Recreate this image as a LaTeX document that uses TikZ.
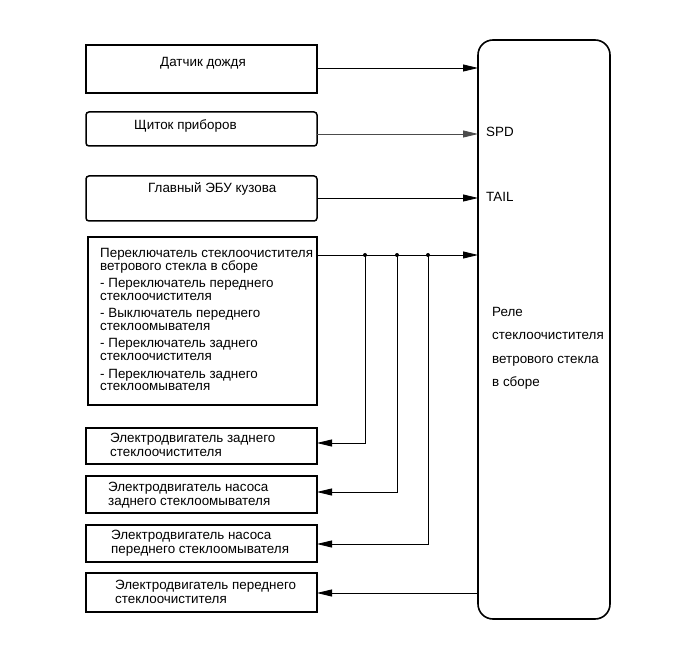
\documentclass[tikz,border=0pt]{standalone}
\usepackage{fontspec}
\setmainfont{Liberation Sans}
\usetikzlibrary{arrows.meta}
\begin{document}
\begin{tikzpicture}[x=1pt,y=-1pt,
  box/.style={draw,line width=1.5pt,inner sep=0pt,outer sep=0pt,anchor=north west},
  rbox/.style={box,rounded corners=3pt},
  txt/.style={font=\fontsize{13.4}{14}\selectfont,inner sep=0pt,anchor=base west},
  conn/.style={line width=0.8pt,-{Triangle[length=15pt,width=7pt]}},
  jdot/.style={circle,fill,inner sep=0pt,minimum size=4pt}]
\useasboundingbox (0,0) rectangle (691,660);

% relay
\node[box,line width=1.6pt,rounded corners=15pt,minimum width=132pt,minimum height=579pt] (relay) at (478,40) {};

% input boxes
\node[box,line width=2pt,minimum width=231pt,minimum height=48pt] (rain) at (86,45) {};
\node[txt] (rainT) at (160,67) {Датчик дождя};
\node[rbox,minimum width=231pt,minimum height=34pt] (panel) at (86,112) {};
\node[txt] (panelT) at (134,130) {Щиток приборов};
\node[rbox,minimum width=231pt,minimum height=45pt] (ecu) at (86,176) {};
\node[txt] (ecuT) at (148,193) {Главный ЭБУ кузова};

% switch box
\node[box,minimum width=229pt,minimum height=168pt] (sw) at (88,237) {};
\node[txt] (s1) at (100,258) {Переключатель стеклоочистителя};
\node[txt] (s2) at (100,271) {ветрового стекла в сборе};
\node[txt] (s3) at (100,288) {- Переключатель переднего};
\node[txt] (s4) at (100,301) {стеклоочистителя};
\node[txt] (s5) at (100,318) {- Выключатель переднего};
\node[txt] (s6) at (100,331) {стеклоомывателя};
\node[txt] (s7) at (100,348) {- Переключатель заднего};
\node[txt] (s8) at (100,361) {стеклоочистителя};
\node[txt] (s9) at (100,378) {- Переключатель заднего};
\node[txt] (s10) at (100,391) {стеклоомывателя};

% output boxes
\node[box,minimum width=231pt,minimum height=36pt] (mA) at (86,428) {};
\node[txt] (mA1) at (110,442) {Электродвигатель заднего};
\node[txt] (mA2) at (110,456) {стеклоочистителя};
\node[box,minimum width=231pt,minimum height=37pt] (mB) at (86,476) {};
\node[txt] (mB1) at (108,491) {Электродвигатель насоса};
\node[txt] (mB2) at (108,505) {заднего стеклоомывателя};
\node[box,minimum width=231pt,minimum height=37pt] (mC) at (86,525) {};
\node[txt] (mC1) at (111,539) {Электродвигатель насоса};
\node[txt] (mC2) at (111,553) {переднего стеклоомывателя};
\node[box,minimum width=231pt,minimum height=39pt] (mD) at (86,573) {};
\node[txt] (mD1) at (115,589) {Электродвигатель переднего};
\node[txt] (mD2) at (115,603) {стеклоочистителя};

% relay labels
\node[txt] (spdT) at (486,137) {SPD};
\node[txt] (tailT) at (486,202) {TAIL};
\node[txt] (r1) at (492,317) {Реле};
\node[txt] (r2) at (492,340) {стеклоочистителя};
\node[txt] (r3) at (492,363) {ветрового стекла};
\node[txt] (r4) at (492,386) {в сборе};

% connection points
\coordinate (inRain) at (478,68);
\coordinate (inSpd) at (478,134);
\coordinate (inTail) at (478,198);
\coordinate (inSw) at (478,255);
\coordinate (outD) at (478,593);
\coordinate (j1) at (365,255);
\coordinate (j2) at (397,255);
\coordinate (j3) at (428,255);
\coordinate (bA) at (365,443);
\coordinate (bB) at (397,492);
\coordinate (bC) at (428,544);

\draw[conn] (rain.east |- inRain) -- (inRain);
\draw[conn,draw=black!70] (panel.east |- inSpd) -- (inSpd);
\draw[conn] (ecu.east |- inTail) -- (inTail);
\draw[conn] (sw.east |- inSw) -- (inSw);
\draw[conn] (j1) -- (bA) -- (mA.east |- bA);
\draw[conn] (j2) -- (bB) -- (mB.east |- bB);
\draw[conn] (j3) -- (bC) -- (mC.east |- bC);
\draw[conn] (outD) -- (mD.east |- outD);
\node[jdot] (d1) at (j1) {};
\node[jdot] (d2) at (j2) {};
\node[jdot] (d3) at (j3) {};
\end{tikzpicture}
\end{document}
